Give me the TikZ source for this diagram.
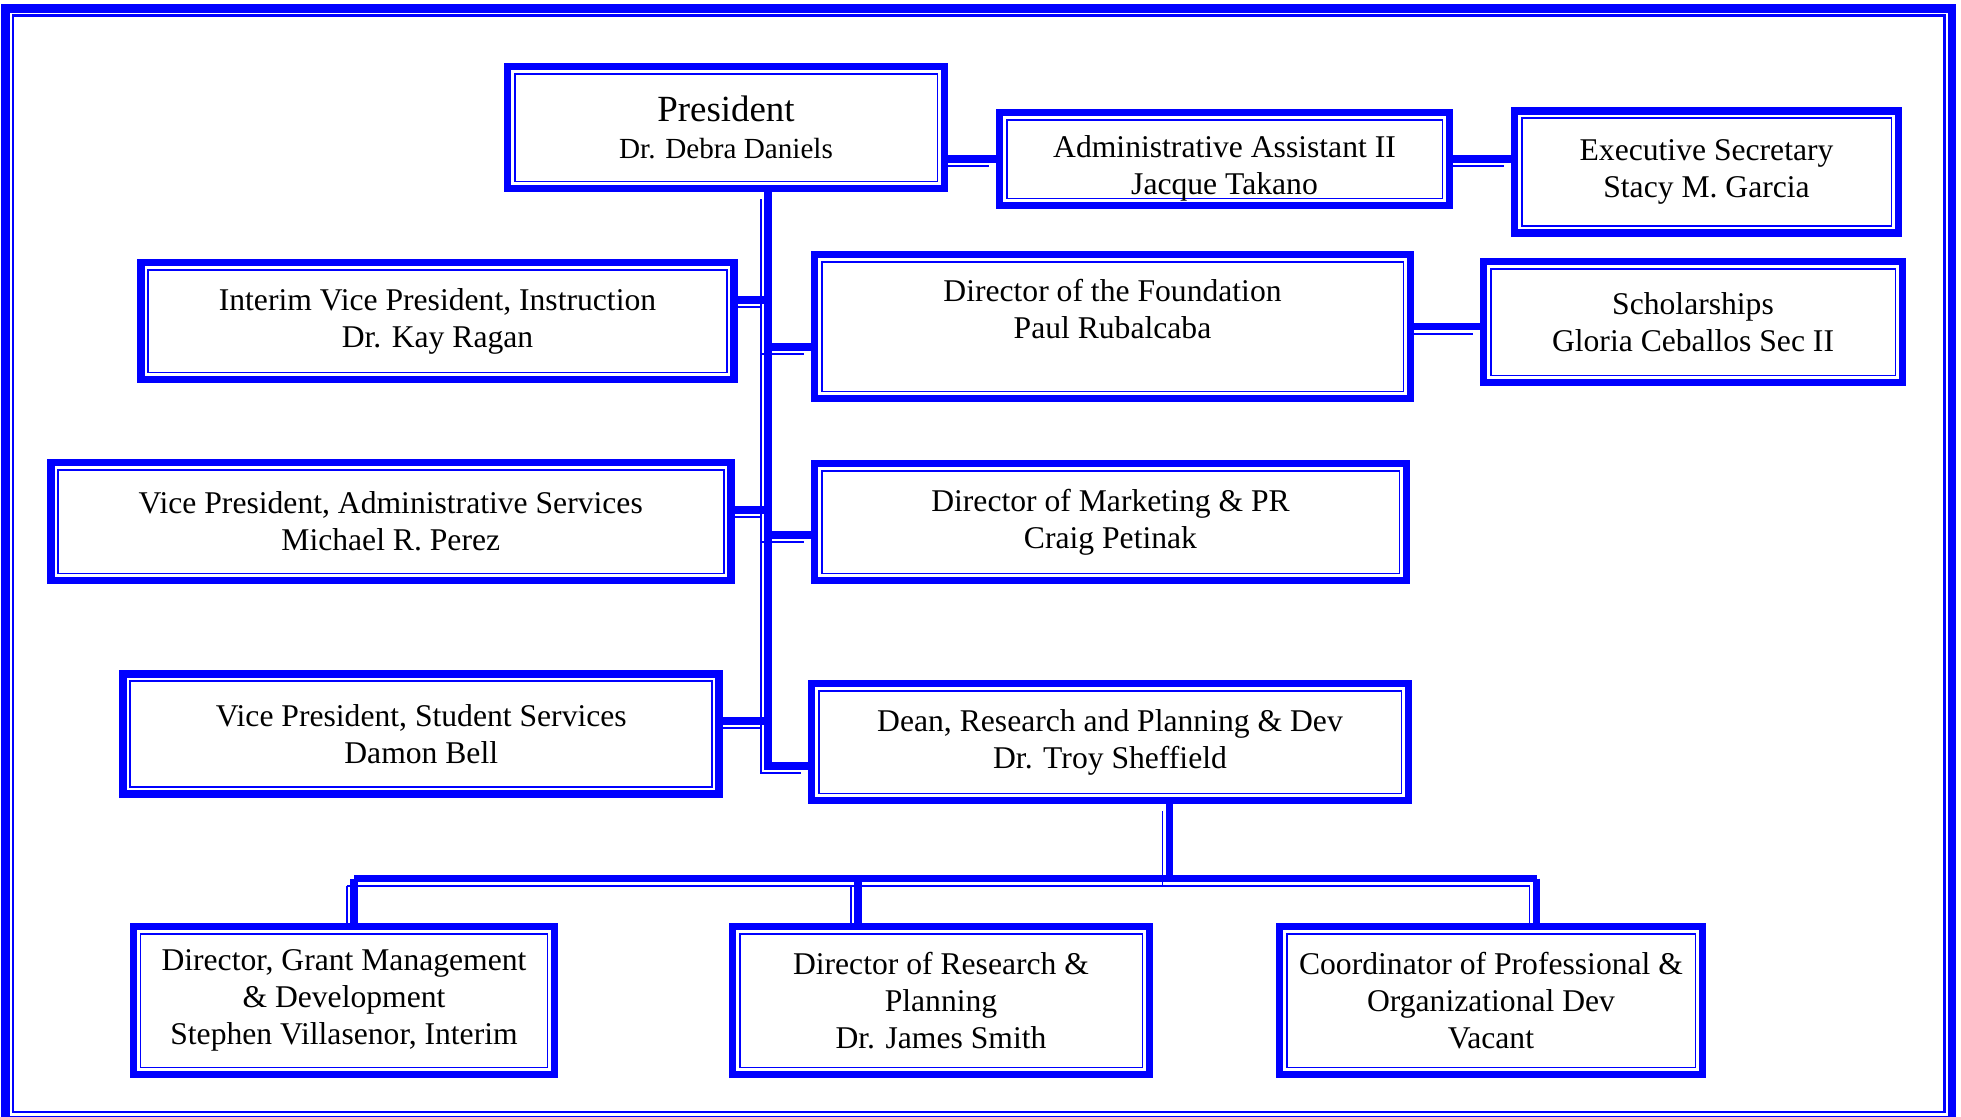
\documentclass[tikz,border=0pt]{standalone}
\usepackage{fontspec}
\setmainfont{Liberation Serif}
\tikzset{
  orgbox/.style={draw=blue, line width=2.2pt, fill=white, align=center, inner sep=0pt,
    font=\fontsize{9}{10.5}\selectfont,
    path picture={\draw[blue, line width=0.55pt]
      ([shift={(2pt,2pt)}]path picture bounding box.south west) rectangle
      ([shift={(-2pt,-2pt)}]path picture bounding box.north east);}},
  link/.style={draw=blue, line width=2.2pt,
    postaction={draw=blue, line width=0.55pt, transform canvas={shift={(-2pt,-2pt)}}}},
}
\begin{document}
\begin{tikzpicture}
        \useasboundingbox (0,0) rectangle (19.61,-11.16);
        \draw[blue, line width=2.4pt] (0.053,-0.087) rectangle (19.52,-11.20); % frame
        \draw[blue, line width=0.65pt] (0.128,-0.155) rectangle (19.445,-11.12);

        \node[orgbox, minimum width=4.37cm, minimum height=1.22cm] (pres) at (7.26,-1.275)
            {{\fontsize{10.5}{12}\selectfont President}\\{\fontsize{8.3}{10}\selectfont Dr. Debra Daniels}};
        \node[orgbox, minimum width=4.5cm, minimum height=0.93cm, text height=22pt] (aa) at (12.245,-1.59) {Administrative Assistant II\\Jacque Takano};
        \node[orgbox, minimum width=3.84cm, minimum height=1.22cm] (es) at (17.065,-1.72) {Executive Secretary\\Stacy M. Garcia};
        \node[orgbox, minimum width=5.93cm, minimum height=1.17cm] (ivp) at (4.375,-3.21) {Interim Vice President, Instruction\\Dr. Kay Ragan};
        \node[orgbox, minimum width=5.96cm, minimum height=1.44cm, text depth=10pt] (fd) at (11.125,-3.265) {Director of the Foundation\\Paul Rubalcaba};
        \node[orgbox, minimum width=4.19cm, minimum height=1.21cm] (sch) at (16.93,-3.22) {Scholarships\\Gloria Ceballos Sec II};
        \node[orgbox, minimum width=6.8cm, minimum height=1.18cm] (vpa) at (3.9075,-5.215) {Vice President, Administrative Services\\Michael R. Perez};
        \node[orgbox, minimum width=5.92cm, minimum height=1.17cm] (mkt) at (11.105,-5.22) {Director of Marketing \& PR\\Craig Petinak};
        \node[orgbox, minimum width=5.96cm, minimum height=1.2cm] (vps) at (4.2125,-7.34) {Vice President, Student Services\\Damon Bell};
        \node[orgbox, minimum width=5.97cm, minimum height=1.17cm] (dean) at (11.10,-7.42) {Dean, Research and Planning \& Dev\\Dr. Troy Sheffield};
        \node[orgbox, minimum width=4.21cm, minimum height=1.48cm] (gm) at (3.44,-10.005) {Director, Grant Management\\\& Development\\Stephen Villasenor, Interim};
        \node[orgbox, minimum width=4.17cm, minimum height=1.48cm] (rp) at (9.41,-10.005) {Director of Research \&\\Planning\\Dr. James Smith};
        \node[orgbox, minimum width=4.23cm, minimum height=1.48cm] (cpd) at (14.91,-10.005) {Coordinator of Professional \&\\Organizational Dev\\Vacant};

        % junctions on the trunk
        \coordinate (t1) at (7.68,-3.00);
        \coordinate (t2) at (7.68,-3.47);
        \coordinate (t3) at (7.68,-5.10);
        \coordinate (t4) at (7.68,-5.35);
        \coordinate (t5) at (7.68,-7.21);
        \coordinate (t6) at (7.68,-7.66);
        % bus under the dean
        \coordinate (bl) at (3.54,-8.785);
        \coordinate (bm) at (8.58,-8.785);
        \coordinate (bd) at (11.695,-8.785);
        \coordinate (br) at (15.365,-8.785);

        \draw[link] (pres.south -| t1) -- (t6) -- (t6 -| dean.west); % trunk
        \draw[link] (pres.east |- aa.west) -- (aa.west);
        \draw[link] (aa.east) -- (aa.east -| es.west);
        \draw[link] (fd.east) -- (fd.east -| sch.west);
        \draw[link] (ivp.east |- t1) -- (t1);
        \draw[link] (t2) -- (t2 -| fd.west);
        \draw[link] (vpa.east |- t3) -- (t3);
        \draw[link] (t4) -- (t4 -| mkt.west);
        \draw[link] (vps.east |- t5) -- (t5);

        \draw[link] (dean.south -| bd) -- (bd);
        \draw[link] (bl) -- (br);
        \draw[link] (bl) -- (bl |- gm.north);
        \draw[link] (bm) -- (bm |- rp.north);
        \draw[link] (br) -- (br |- cpd.north);
\end{tikzpicture}
\end{document}
